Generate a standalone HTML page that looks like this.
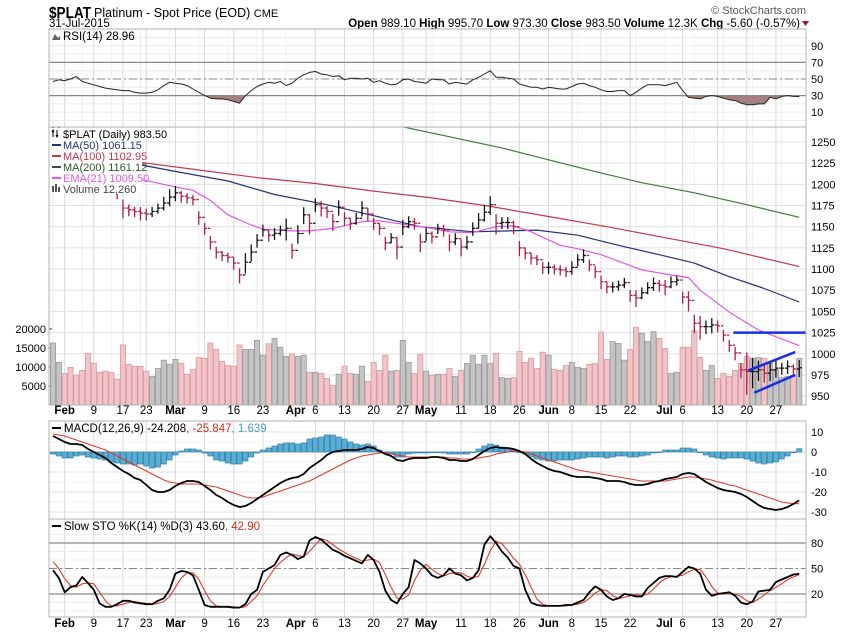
<!DOCTYPE html>
<html><head><meta charset="utf-8">
<style>
html,body{margin:0;padding:0;background:#fff;}
svg{display:block;font-family:"Liberation Sans",sans-serif;}
</style></head>
<body>
<svg id="chart" width="850" height="633" viewBox="0 0 850 633" xmlns="http://www.w3.org/2000/svg">
<defs>
<clipPath id="clipMain"><rect x="49" y="127" width="757" height="278"/></clipPath>
<clipPath id="clipRsi"><rect x="49" y="29" width="757" height="98"/></clipPath>
<clipPath id="clipMacd"><rect x="49" y="421" width="757" height="98"/></clipPath>
<clipPath id="clipSto"><rect x="49" y="519" width="757" height="98"/></clipPath>
</defs>
<g>
<text x="49" y="18" font-size="16" font-weight="bold" fill="#000" textLength="42" lengthAdjust="spacingAndGlyphs">$PLAT</text>
<text x="94" y="17" font-size="12.5" fill="#000">Platinum  - Spot Price (EOD) <tspan font-size="11">CME</tspan></text>
<text x="49" y="27" font-size="11.5" fill="#000">31-Jul-2015</text>
<text x="806" y="14" font-size="11" fill="#555" text-anchor="end">© StockCharts.com</text>
<text x="800" y="27" font-size="11.5" fill="#000" text-anchor="end"><tspan font-weight="bold">Open</tspan> 989.10  <tspan font-weight="bold">High</tspan> 995.70  <tspan font-weight="bold">Low</tspan> 973.30  <tspan font-weight="bold">Close</tspan> 983.50  <tspan font-weight="bold">Volume</tspan> 12.3K  <tspan font-weight="bold">Chg</tspan> -5.60 (-0.57%)</text>
<path d="M802,21 l7,0 l-3.5,5 z" fill="#a01030"/>
</g>
<g id="grid"></g>
<g id="layers"></g>
</svg>
<script>
// ===== data =====
const dateLabels = ["Feb","9","17","23","Mar","9","16","23","Apr","6","13","20","27","May","11","18","26","Jun","8","15","22","Jul","6","13","20","27"];
const dateLabelIdx = [2,7,12,16,21,26,31,36,44,45,50,55,60,64,70,75,80,85,89,94,99,107,108,114,119,124];
const dateLabelBold = [1,0,0,0,1,0,0,0,1,0,0,0,0,1,0,0,0,1,0,0,0,1,0,0,0,0];
const closes = [1262,1265,1258,1252,1248,1240,1232,1222,1212,1205,1198,1190,
1172,1170,1168,1166,1165,1168,1172,1178,1185,1190,1186,1184,1182,
1161,1148,1132,1120,1116,1114,1107,1093,1108,1120,1134,1146,1140,1142,1146,
1148,1122,1142,1164,1154,1176,1172,1168,1156,1173,
1160,1154,1160,1172,1165,1154,1148,1131,1137,1126,
1150,1156,1154,1132,1142,1138,1148,1146,1132,1136,
1126,1132,1148,1158,1167,1176,1154,1155,1155,1150,
1125,1119,1113,1111,1102,1102,1100,1099,1097,1102,
1111,1116,1105,1097,1085,1079,1079,1081,1084,1069,
1066,1072,1078,1083,1081,1079,1085,1087,1067,1063,
1036,1032,1032,1034,1033,1022,1010,1001,981,979,
979,981,977,981,983,983,985,982,983.5];
const spans = [14,14,14,14,14,14,14,14,14,14,14,14,
22,14,12,16,14,12,12,16,20,18,14,12,12,
16,14,16,14,12,12,14,18,24,20,16,14,14,14,12,
26,18,22,20,24,16,18,14,20,18,
16,14,14,18,16,14,14,16,12,26,
18,14,14,22,16,14,12,14,20,14,
20,16,16,18,20,22,24,14,14,16,
18,14,14,12,14,14,12,12,12,16,
14,16,14,14,16,14,12,12,12,14,
20,14,14,16,14,18,14,12,14,24,
22,28,16,18,14,14,14,16,18,50,
36,24,20,24,20,14,16,12,20];
const volumes = [16.3,11.2,8.3,9.9,7.7,9.1,13.6,11,8.6,8.9,8.6,6.8,15.8,10.7,10.2,10.2,8.9,7.5,9.6,11.8,10.7,12,11,8.1,9.4,12.5,12.3,16.3,14.6,11.5,10.4,10.2,15.8,14.6,14.6,17,13.1,16.1,17.5,15.2,12.8,13.4,12.8,13.1,8.6,8.6,8.3,7,5.2,8.1,10.2,8.3,8.1,10.2,6.2,11.2,9.1,13.1,8.9,9.1,17,11.2,8.3,13.3,8.9,
7.8,8.1,8.1,9.6,7.5,9.1,10.9,13.1,10.7,13.1,10.9,13.6,7.2,7,7.2,14.1,11.2,12.3,9.6,13.9,13.1,9.4,9.1,10.4,11.2,9.9,9.6,10.7,10.9,19.2,12,16.7,16.2,11.8,14.6,20.4,18.9,16.7,19.3,17.5,14.9,8.3,8.6,15.2,15.2,19.6,12.5,9.1,10.4,7,8.3,7.5,9.1,10.9,12.8,12.3,12.5,12.3,10.9,9.4,7.2,7.5,7.8,12.26];
const ma50Idx = [15,22,30,38,47,55,63,72,83,90,97,104,110,116,122,128];
const ma50Val = [1223,1214,1204,1188,1176,1163,1150,1144,1146,1140,1128,1117,1107,1091,1077,1061.15];
const ma100Idx = [15,25,35,45,55,65,75,85,95,105,115,128];
const ma100Val = [1226,1217,1208,1201,1192,1184,1174,1162,1150,1137,1124,1102.95];
const ma200Idx = [60,64,77,85,93,101,110,119,128];
const ma200Val = [1268,1262,1243,1229,1215,1202,1190,1176,1161.12];
const emaIdx = [15,21,24,27,30,34,36,41,44,48,53,56,60,65,68,72,76,79,82,87,90,94,101,106,109,111,116,121,128];
const emaVal = [1206,1197,1193,1181,1164,1152,1147,1145,1145,1148,1156,1157,1153,1148,1144,1143,1150,1151,1144,1128,1124,1117,1099,1093,1090,1075,1049,1028,1009.5];
const rsi = [47,49,48,50,53,47,45,43,41,39,38,37,36,36,34,33,33,34,37,42,46,45,44,42,38,34,30,27,26,26,25,23,21,30,36,41,44,46,45,47,42,45,51,55,58,59,56,55,53,54,49,51,51,50,51,46,48,45,43,44,49,50,47,46,45,50,49,49,44,46,45,44,49,52,56,60,52,52,51,50,44,42,40,40,38,40,39,38,38,41,44,45,42,40,37,35,35,36,36,30,34,39,43,43,43,42,44,46,36,28,27,26,29,30,29,27,25,24,21,19,19,20,20,28,26,29,30,29,28.96];
const macd = [8,6.5,5,4,4,3.5,1.5,0,-1.5,-3,-5.5,-7.5,-9.5,-11,-13,-14,-16.5,-19,-20,-20,-19,-17,-15.5,-14.5,-14.5,-15,-17,-19,-21.5,-23,-25,-26.5,-27.5,-27,-25.5,-23.5,-21.5,-19.5,-17.5,-15.5,-14,-13,-12.5,-11,-8,-6,-4,-1.5,0,0.5,1,1,1,1.5,2.5,2,0.5,-1,-2,-4,-4.5,-3.5,-3,-3,-3,-2.5,-2.5,-3,-4,-4,-4.5,-4.5,-3.5,-1.5,0.5,2,2.5,2,2,1.5,0.5,-1,-3.5,-5.5,-7,-8.5,-9.5,-10,-11,-12,-12.5,-12.5,-12.5,-13,-13.5,-14.5,-14.5,-14.5,-15,-16,-16.5,-16.5,-16,-15,-14.5,-13.5,-13,-12.5,-11,-10.5,-11,-13,-15,-16.5,-18,-19,-19.5,-20,-21,-22.5,-24.5,-26.5,-28,-28.5,-29,-28.5,-27.5,-26,-24.208];
const signal = [9,8.5,8,7,6,5,4,3,2,1,-0.5,-2,-3.5,-5,-6.5,-8,-9.5,-11,-12.5,-14,-15,-15.5,-16,-16,-16,-16,-16.5,-17,-17.5,-18.5,-19.5,-20.5,-21.5,-22.5,-23,-23,-22.5,-21.5,-20.5,-19.5,-18.5,-17.5,-16.5,-15.5,-14.5,-13,-11.5,-10,-8.5,-7,-5.5,-4,-3,-2,-1.5,-1,-0.5,-0.5,-1,-1.5,-2,-2.5,-2.5,-2.5,-2.5,-2.5,-2.5,-2.5,-3,-3,-3.5,-3.5,-3.5,-3,-2.5,-2,-1,-0.5,0,0.5,0.5,0,-1,-2,-3,-4,-5,-6,-7,-8,-9,-9.5,-10,-10.5,-11,-11.5,-12,-12.5,-13,-13.5,-14,-14.5,-14.5,-14.5,-14.5,-14.5,-14,-13.5,-13,-12.5,-12.5,-13,-13.5,-14,-15,-15.5,-16.5,-17,-18,-19,-20,-21,-22,-23,-24,-25,-25.5,-25.8,-25.847];
const stoK = [48,39,22,28,30,40,33,25,9,5,5,8,12,12,10,9,8,8,12,15,25,44,47,46,42,25,7,5,5,5,5,4,4,8,20,25,46,50,54,66,69,66,61,64,83,87,84,78,72,69,65,62,59,56,66,60,46,24,13,9,20,28,60,56,50,42,39,42,50,44,42,36,39,48,78,88,80,70,63,53,50,25,10,7,6,6,6,6,7,7,10,13,22,29,25,17,13,15,20,19,17,17,27,33,39,41,41,40,46,52,50,44,25,18,20,21,22,18,10,8,11,23,24,25,34,37,40,43,43.6];
const stoD = [58,50,38,30,28,32,33,32,22,12,6,6,8,10,11,10,9,8,9,11,17,28,39,45,45,37,24,12,6,5,5,5,4,5,11,18,30,40,50,57,63,67,65,64,70,78,85,83,78,73,69,65,62,59,60,61,57,43,28,15,14,19,36,48,55,49,44,41,44,45,45,41,39,41,55,71,82,79,71,62,55,43,28,14,8,6,6,6,6,7,8,10,15,21,25,24,18,15,16,18,19,18,20,26,33,38,40,41,42,46,49,49,40,29,21,20,21,20,17,12,10,14,19,24,28,32,37,40,42.9];
const priceTicks = [950,975,1000,1025,1050,1075,1100,1125,1150,1175,1200,1225,1250];
const volTicks = [5000,10000,15000,20000];
const rsiTicks = [10,30,50,70,90];
const macdTicks = [-30,-20,-10,0,10];
const stoTicks = [20,50,80];

// ===== axes =====
const X0 = 49, X1 = 806;
function xOf(i){ return 53 + i*5.83; }
function yP(v){ return 142 + (1250 - v)*0.847; }
function yV(k){ return 405 - k*3.8; }
function yR(v){ return 120.5 - 0.83*v; }
function yM(v){ return 452 - 2*v; }
function yS(v){ return 611 - 0.85*v; }

const NS = "http://www.w3.org/2000/svg";
const grid = document.getElementById('grid');
const layers = document.getElementById('layers');
function mk(tag, attrs, parent){
  const e = document.createElementNS(NS, tag);
  for (const k in attrs) e.setAttribute(k, attrs[k]);
  (parent||layers).appendChild(e);
  return e;
}
function gr(name, clip){
  const g = mk('g', clip ? {'clip-path':'url(#'+clip+')'} : {});
  
  
  return g;
}
function poly(idxs, vals, yfn, color, width, name, parent){
  let d = '';
  idxs.forEach((ix,k)=>{ d += (k?'L':'M') + xOf(ix).toFixed(1) + ',' + yfn(vals[k]).toFixed(1); });
  const p = mk('path', {d:d, fill:'none', stroke:color, 'stroke-width':width, 'stroke-linejoin':'round'}, parent);
  
  
  return p;
}
const allIdx = closes.map((_,i)=>i);

const panels = [[29,127,'rsi-panel'],[127,405,'price-panel'],[421,519,'macd-panel'],[519,617,'sto-panel']];
panels.forEach(p=>{
  const r = mk('rect', {x:X0, y:p[0], width:X1-X0, height:p[1]-p[0], fill:'#fff', stroke:'none'}, grid);
  
  
});
for (let i=0;i<closes.length;i+=5){
  mk('line',{x1:xOf(i),x2:xOf(i),y1:29,y2:405,stroke:'#eeeeee','stroke-width':1},grid);
}
dateLabelIdx.forEach((ix,k)=>{
  if (dateLabels[k]==='Apr' || dateLabels[k]==='Jul') return;
  const x = xOf(ix);
  [[29,405],[421,617]].forEach(r=>mk('line',{x1:x,x2:x,y1:r[0],y2:r[1],stroke:'#d8d8d8','stroke-width':1},grid));
});
priceTicks.forEach(v=>{ mk('line',{x1:X0,x2:X1,y1:yP(v),y2:yP(v),stroke:'#e0e0e0'},grid); });
for (let v=0; v<=100; v+=10){ mk('line',{x1:X0,x2:X1,y1:yR(v),y2:yR(v),stroke:'#ececec'},grid); }
for (let v=-30; v<=10; v+=5){ mk('line',{x1:X0,x2:X1,y1:yM(v),y2:yM(v),stroke: v%10===0?'#e0e0e0':'#f0f0f0'},grid); }
for (let v=0; v<=100; v+=10){ mk('line',{x1:X0,x2:X1,y1:yS(v),y2:yS(v),stroke:'#ececec'},grid); }

const axG = gr('right-axes');
priceTicks.forEach(v=>{
  const t = mk('text',{x:811,y:yP(v)+4,'font-size':11,fill:'#000'},axG); t.textContent = v;
  
  
});
rsiTicks.forEach(v=>{
  const t = mk('text',{x:811,y:yR(v)+4,'font-size':11,fill:'#000'},axG); t.textContent = v;
  
  
});
macdTicks.forEach(v=>{
  const t = mk('text',{x:811,y:yM(v)+4,'font-size':11,fill:'#000'},axG); t.textContent = v;
  
  
});
stoTicks.forEach(v=>{
  const t = mk('text',{x:811,y:yS(v)+4,'font-size':11,fill:'#000'},axG); t.textContent = v;
  
  
});
volTicks.forEach(v=>{
  const y = yV(v/1000);
  const t = mk('text',{x:46,y:y+4,'font-size':11,fill:'#000','text-anchor':'end'},axG); t.textContent = v;
  
  
  mk('line',{x1:49,x2:52,y1:y,y2:y,stroke:'#333'},axG);
});
[414,627].forEach((yy,row)=>{
  const g = gr(row? 'x-axis-bottom':'x-axis-top');
  dateLabelIdx.forEach((ix,k)=>{
    let x = xOf(ix);
    const bold = dateLabelBold[k]===1;
    if (dateLabels[k]==='Apr' || dateLabels[k]==='Jul') x -= 4;
    const t = mk('text',{x:x,y:yy,'font-size':11.5,'font-weight':bold?'bold':'normal','text-anchor': (dateLabels[k]==='Apr'||dateLabels[k]==='Jul')?'end':'middle',fill:'#000'},g);
    t.textContent = dateLabels[k];
    
    
  });
});

// ===== RSI =====
const rsiG = gr('rsi-series','clipRsi');
mk('line',{x1:X0,x2:X1,y1:yR(70),y2:yR(70),stroke:'#888','stroke-width':1.2},rsiG);
mk('line',{x1:X0,x2:X1,y1:yR(30),y2:yR(30),stroke:'#888','stroke-width':1.2},rsiG);
mk('line',{x1:X0,x2:X1,y1:yR(50),y2:yR(50),stroke:'#888','stroke-width':1,'stroke-dasharray':'8,3,2,3'},rsiG);
{
  let d='';
  allIdx.forEach(i=>{ const v=Math.min(rsi[i],30); d += (i?'L':'M')+xOf(i).toFixed(1)+','+yR(v).toFixed(1); });
  d += 'L'+xOf(allIdx.length-1).toFixed(1)+','+yR(30)+'L'+xOf(0).toFixed(1)+','+yR(30)+'Z';
  const f = mk('path',{d:d,fill:'#a58080',stroke:'none'},rsiG);
  
  
}
poly(allIdx, rsi, yR, '#222', 1, 'rsi-line', rsiG);

// ===== price panel =====
const volG = gr('volume-bars','clipMain');
allIdx.forEach(i=>{
  const up = i===0 || closes[i] >= closes[i-1];
  const y = yV(volumes[i]);
  const r = mk('rect',{x:xOf(i)-2.6,y:y,width:5.2,height:405-y,fill:up?'#c4c4c4':'#f2c4c8',stroke:up?'#9a9a9a':'#d89aa2','stroke-width':0.8},volG);
  
  
});
const maG = gr('moving-averages','clipMain');
poly(ma200Idx, ma200Val, yP, '#3a7d34', 1.2, 'ma200-line', maG);
poly(ma100Idx, ma100Val, yP, '#c8364e', 1.2, 'ma100-line', maG);
poly(ma50Idx, ma50Val, yP, '#23307a', 1.2, 'ma50-line', maG);
poly(emaIdx, emaVal, yP, '#e058e0', 1.2, 'ema21-line', maG);
const barG = gr('price-bars','clipMain');
allIdx.forEach(i=>{
  const up = i===0 || closes[i] >= closes[i-1];
  const col = up ? '#111' : '#b01e45';
  const x = xOf(i);
  const hi = closes[i] + spans[i]*0.45, lo = closes[i] - spans[i]*0.55;
  const op = i===0 ? closes[i] : closes[i-1];
  const g = mk('g',{stroke:col,'stroke-width':1.3},barG);
  
  
  mk('line',{x1:x,x2:x,y1:yP(hi),y2:yP(lo)},g);
  mk('line',{x1:x-2.5,x2:x,y1:yP(op),y2:yP(op)},g);
  mk('line',{x1:x,x2:x+2.5,y1:yP(closes[i]),y2:yP(closes[i])},g);
});
const annG = gr('trendline-annotations','clipMain');
const hz = mk('line',{x1:xOf(116.7),x2:X1,y1:yP(1025),y2:yP(1025),stroke:'#1430e0','stroke-width':2.5},annG);
 
const up1 = mk('line',{x1:xOf(119.2),x2:xOf(127.3),y1:yP(980),y2:yP(1002),stroke:'#1430e0','stroke-width':2.5},annG);
 
const lo1 = mk('line',{x1:xOf(120.3),x2:xOf(127.3),y1:yP(954),y2:yP(975),stroke:'#1430e0','stroke-width':2.5},annG);
 

// legend
const lg = gr('price-legend');
mk('rect',{x:50,y:128,width:92,height:66,fill:'#fff'},lg);
const legendRows = [
  ['$PLAT (Daily) 983.50','#000',null],
  ['MA(50) 1061.15','#23307a','#23307a'],
  ['MA(100) 1102.95','#c8364e','#c8364e'],
  ['MA(200) 1161.12','#2d5a2a','#2d5a2a'],
  ['EMA(21) 1009.50','#e058e0','#e058e0'],
  ['Volume 12,260','#444',null]
];
legendRows.forEach((r,k)=>{
  const y = 138 + k*11;
  const t = mk('text',{x:63,y:y,'font-size':11,fill:r[1]},lg); t.textContent = r[0];
  
  
  if (r[2]) mk('line',{x1:52,x2:61,y1:y-4,y2:y-4,stroke:r[2],'stroke-width':2},lg);
});
mk('path',{d:'M53,130v7M52,132l1,-2l1,2M57,130v7M56,135l1,2l1,-2',stroke:'#000','stroke-width':1,fill:'none'},lg);
mk('path',{d:'M52,192v-6h2v6zM55,192v-8h2v8zM58,192v-5h2v5z',fill:'#555'},lg);

const rt = gr('rsi-legend');
mk('path',{d:'M52,40l3,-6l3,4l2,-2v4z',fill:'#666'},rt);
const rtt = mk('text',{x:63,y:40,'font-size':11.5,fill:'#000'},rt); rtt.textContent='RSI(14) 28.96';
 

// ===== MACD =====
const mG = gr('macd-series','clipMacd');
allIdx.forEach(i=>{
  const h = macd[i]-signal[i];
  const y0 = yM(0), y1 = yM(h);
  const r = mk('rect',{x:xOf(i)-2.6,y:Math.min(y0,y1),width:5.2,height:Math.max(Math.abs(y1-y0),0.6),fill:'#5aaed4',stroke:'#2f7fa8','stroke-width':0.7},mG);
  
  
});
poly(allIdx, signal, yM, '#e03a2a', 1.1, 'macd-signal-line', mG);
poly(allIdx, macd, yM, '#000', 1.8, 'macd-line', mG);
const ml = gr('macd-legend');
mk('line',{x1:52,x2:61,y1:428,y2:428,stroke:'#000','stroke-width':2},ml);
const mt = mk('text',{x:64,y:432,'font-size':11.5,fill:'#000'},ml);
mt.innerHTML = 'MACD(12,26,9) -24.208<tspan fill="#d03020">, -25.847</tspan><tspan fill="#4aa0c8">, 1.639</tspan>';
 

// ===== Stochastic =====
const sG = gr('stochastic-series','clipSto');
mk('line',{x1:X0,x2:X1,y1:yS(80),y2:yS(80),stroke:'#888','stroke-width':1.2},sG);
mk('line',{x1:X0,x2:X1,y1:yS(20),y2:yS(20),stroke:'#888','stroke-width':1.2},sG);
mk('line',{x1:X0,x2:X1,y1:yS(50),y2:yS(50),stroke:'#888','stroke-width':1,'stroke-dasharray':'8,3,2,3'},sG);
poly(allIdx, stoD, yS, '#e03a2a', 1.1, 'sto-d-line', sG);
poly(allIdx, stoK, yS, '#000', 1.8, 'sto-k-line', sG);
const sl = gr('sto-legend');
mk('line',{x1:52,x2:61,y1:526,y2:526,stroke:'#000','stroke-width':2},sl);
const st = mk('text',{x:64,y:530,'font-size':11.5,fill:'#000'},sl);
st.innerHTML = 'Slow STO %K(14) %D(3) 43.60<tspan fill="#d03020">, 42.90</tspan>';
 

panels.forEach(p=>{
  mk('rect',{x:X0,y:p[0],width:X1-X0,height:p[1]-p[0],fill:'none',stroke:'#b0b0b0','stroke-width':1});
});
</script>
</body></html>
